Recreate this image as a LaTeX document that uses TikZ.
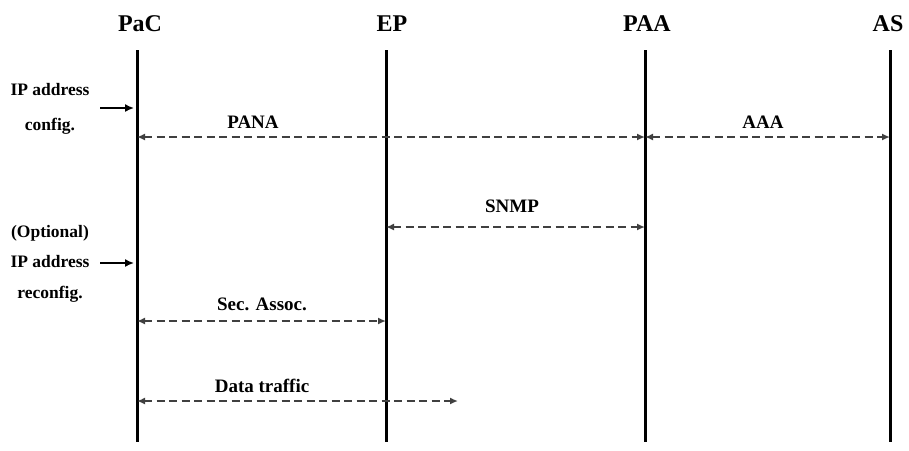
\documentclass[tikz,border=0pt]{standalone}
\usepackage{fontspec}
\setmainfont{Liberation Serif}
\usetikzlibrary{arrows.meta}
\begin{document}
\begin{tikzpicture}[x=1pt, y=-1pt,
		head/.style={anchor=base, font=\bfseries\fontsize{24}{28}\selectfont},
		msglabel/.style={anchor=base, font=\bfseries\fontsize{19}{22}\selectfont},
		side/.style={anchor=base, font=\bfseries\fontsize{17.5}{20}\selectfont},
		lifeline/.style={line width=3pt},
		msg/.style={line width=2pt, draw=black!75, dash pattern=on 8pt off 4.5pt, {Latex[length=8pt,width=7pt]}-{Latex[length=8pt,width=7pt]}},
		cfg/.style={line width=1.6pt, -{Latex[length=9pt,width=8pt]}}]
			\useasboundingbox (0,0) rectangle (909,450);
			%% entities and lifelines
			\foreach \n/\t/\x/\c in {pac/PaC/137/140, ep/EP/386/392, paa/PAA/645/647, as/AS/890/888}{
				\node[head] (\n) at (\c,31) {\t};
				\coordinate (\n top) at (\x,50);
				\coordinate (\n bot) at (\x,442);
				\draw[lifeline] (\n top) -- (\n bot);
			}
			%% PANA and AAA
			\coordinate (pac pana) at (137,137);
			\coordinate (paa pana) at (645,137);
			\coordinate (as aaa) at (890,137);
			\draw[msg] (pac pana) -- (paa pana);
			\draw[msg] (paa pana) -- (as aaa);
			\node[msglabel] (pana) at (253,128) {PANA};
			\node[msglabel] (aaa) at (763,128) {AAA};
			%% SNMP
			\coordinate (ep snmp) at (386,227);
			\coordinate (paa snmp) at (645,227);
			\draw[msg] (ep snmp) -- (paa snmp);
			\node[msglabel] (snmp) at (512,212) {SNMP};
			%% security association
			\coordinate (pac sa) at (137,321);
			\coordinate (ep sa) at (386,321);
			\draw[msg] (pac sa) -- (ep sa);
			\node[msglabel] (sa) at (262,310) {Sec. Assoc.};
			%% data traffic
			\coordinate (pac dt) at (137,401);
			\coordinate (dt end) at (458,401);
			\draw[msg] (pac dt) -- (dt end);
			\node[msglabel] (dt) at (262,392) {Data traffic};
			%% address configuration
			\node[side] (cfg1) at (50,95) {IP address};
			\node[side] (cfg2) at (50,130) {config.};
			\coordinate (cfg from) at (100,108);
			\coordinate (cfg to) at (134,108);
			\draw[cfg] (cfg from) -- (cfg to);
			%%
			\node[side] (rcfg0) at (50,237) {(Optional)};
			\node[side] (rcfg1) at (50,267) {IP address};
			\node[side] (rcfg2) at (50,298) {reconfig.};
			\coordinate (rcfg from) at (100,263);
			\coordinate (rcfg to) at (134,263);
			\draw[cfg] (rcfg from) -- (rcfg to);
\end{tikzpicture}
\end{document}
